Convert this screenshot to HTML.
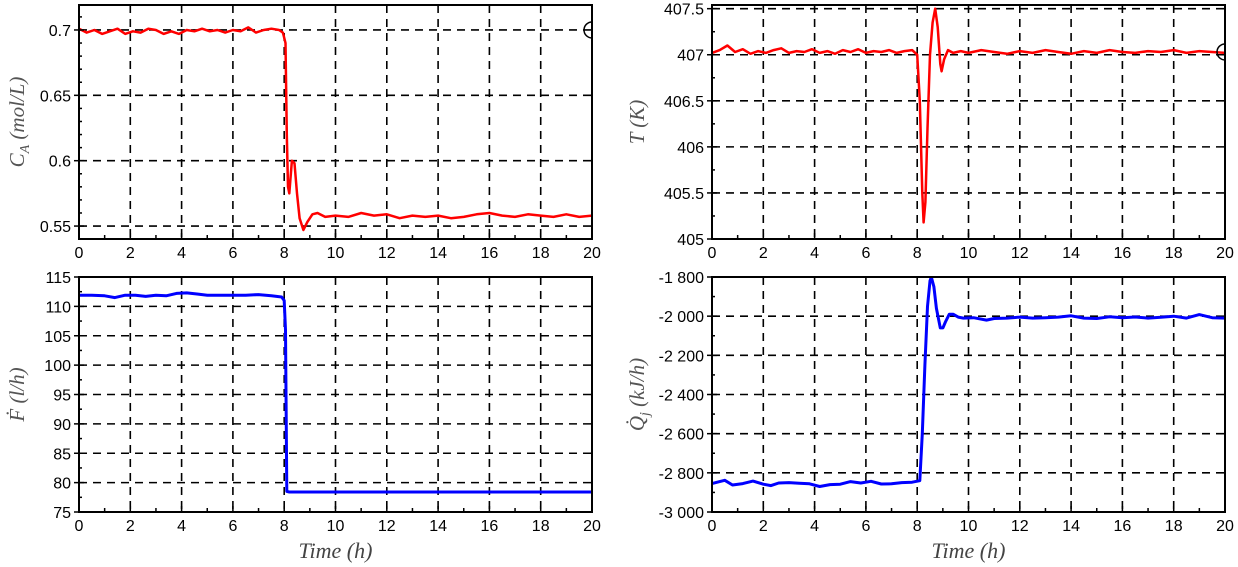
<!DOCTYPE html>
<html><head><meta charset="utf-8"><style>
html,body{margin:0;padding:0;background:#fff;}
svg{display:block;}
</style></head><body>
<svg id="fig" width="1238" height="567" xmlns="http://www.w3.org/2000/svg"></svg>
<script>
// ---- data ----
const caTime = [0,0.3,0.6,0.9,1.2,1.5,1.8,2.1,2.4,2.7,3.0,3.3,3.6,3.9,4.2,4.5,4.8,5.1,5.4,5.7,6.0,6.3,6.6,6.9,7.2,7.5,7.8,7.95,8.05,8.1,8.15,8.2,8.3,8.4,8.5,8.6,8.75,8.9,9.1,9.3,9.6,10,10.5,11,11.5,12,12.5,13,13.5,14,14.5,15,15.5,16,16.5,17,17.5,18,18.5,19,19.5,20];
const caValues = [0.701,0.698,0.700,0.697,0.699,0.701,0.697,0.699,0.698,0.701,0.700,0.697,0.699,0.697,0.700,0.699,0.701,0.699,0.700,0.698,0.700,0.699,0.702,0.698,0.700,0.701,0.700,0.698,0.690,0.620,0.580,0.575,0.600,0.598,0.575,0.556,0.547,0.553,0.559,0.560,0.557,0.558,0.557,0.560,0.558,0.559,0.556,0.558,0.557,0.558,0.556,0.557,0.559,0.560,0.558,0.557,0.559,0.558,0.557,0.559,0.557,0.558];
const tTime = [0,0.3,0.6,0.9,1.2,1.5,1.8,2.1,2.4,2.7,3.0,3.3,3.6,3.9,4.2,4.5,4.8,5.1,5.4,5.7,6.0,6.3,6.6,6.9,7.2,7.5,7.8,8.0,8.1,8.2,8.25,8.32,8.4,8.5,8.6,8.7,8.8,8.9,8.95,9.05,9.2,9.4,9.7,10,10.5,11,11.5,12,12.5,13,13.5,14,14.5,15,15.5,16,16.5,17,17.5,18,18.5,19,19.5,20];
const tValues = [407.02,407.05,407.10,407.03,407.06,407.01,407.04,407.02,407.05,407.07,407.02,407.04,407.03,407.06,407.02,407.04,407.01,407.05,407.03,407.06,407.02,407.04,407.03,407.05,407.02,407.04,407.05,407.00,406.5,405.5,405.18,405.4,406.2,407.0,407.35,407.5,407.3,406.9,406.82,406.95,407.05,407.02,407.04,407.02,407.05,407.03,407.01,407.04,407.02,407.05,407.03,407.01,407.04,407.02,407.05,407.03,407.02,407.04,407.03,407.05,407.02,407.04,407.03,407.02];
const fTime = [0,0.5,1.0,1.4,1.8,2.2,2.6,3.0,3.4,3.8,4.2,4.6,5.0,5.5,6.0,6.5,7.0,7.5,7.9,8.0,8.05,8.1,8.2,9,10,12,14,16,18,20];
const fValues = [111.9,111.9,111.8,111.5,111.9,111.9,111.7,111.9,111.8,112.2,112.3,112.1,111.9,111.9,111.9,111.9,112.0,111.8,111.6,111.0,106.0,78.5,78.4,78.4,78.4,78.4,78.4,78.4,78.4,78.4];
const qTime = [0,0.3,0.5,0.8,1.2,1.6,2.0,2.3,2.6,3.0,3.4,3.8,4.2,4.6,5.0,5.4,5.8,6.2,6.6,7.0,7.4,7.8,8.1,8.2,8.3,8.4,8.5,8.55,8.65,8.75,8.9,9.0,9.1,9.25,9.4,9.6,9.8,10.2,10.7,11.0,11.5,12,12.5,13,13.5,14,14.5,15,15.5,16,16.5,17,17.5,18,18.5,19,19.5,20];
const qValues = [-2855,-2845,-2838,-2862,-2855,-2842,-2858,-2865,-2852,-2850,-2853,-2856,-2870,-2860,-2858,-2845,-2852,-2843,-2857,-2856,-2850,-2848,-2840,-2600,-2250,-1950,-1820,-1800,-1850,-1960,-2060,-2060,-2030,-1990,-1990,-2005,-2010,-2008,-2020,-2012,-2010,-2005,-2010,-2008,-2005,-1998,-2010,-2012,-2003,-2008,-2004,-2010,-2006,-2000,-2010,-1992,-2008,-2010];
const xTicks = [0,2,4,6,8,10,12,14,16,18,20];
const caTicks = [0.55,0.6,0.65,0.7];
const caTickLabels = ["0.55","0.6","0.65","0.7"];
const tTicks = [405,405.5,406,406.5,407,407.5];
const tTickLabels = ["405","405.5","406","406.5","407","407.5"];
const fTicks = [75,80,85,90,95,100,105,110,115];
const fTickLabels = ["75","80","85","90","95","100","105","110","115"];
const qTicks = [-3000,-2800,-2600,-2400,-2200,-2000,-1800];
const qTickLabels = ["-3 000","-2 800","-2 600","-2 400","-2 200","-2 000","-1 800"];

const NS='http://www.w3.org/2000/svg';
const svg=document.getElementById('fig');
function mk(tag,attrs,parent){const e=document.createElementNS(NS,tag);for(const k in attrs)e.setAttribute(k,attrs[k]);(parent||svg).appendChild(e);return e;}
const defs=mk('defs',{});
let clipN=0;
function panel(o){
  const g=mk('g',{});
  
  
  const cid='clip'+(clipN++);
  const cp=mk('clipPath',{id:cid},defs);
  mk('rect',{x:o.x0,y:o.y0,width:o.x1-o.x0,height:o.y1-o.y0},cp);
  const sx=v=>o.x0+(v-0)/(20-0)*(o.x1-o.x0);
  const sy=v=>o.y1-(v-o.ymin)/(o.ymax-o.ymin)*(o.y1-o.y0);
  xTicks.forEach(t=>{ if(t>0&&t<20){const l=mk('line',{x1:sx(t),x2:sx(t),y1:o.y0,y2:o.y1,stroke:'#000','stroke-width':1.6,'stroke-dasharray':'8,6'},g);
    
    }});
  o.ticks.forEach(t=>{ const y=sy(t); if(y>o.y0+1&&y<o.y1-1){const l=mk('line',{x1:o.x0,x2:o.x1,y1:y,y2:y,stroke:'#000','stroke-width':1.6,'stroke-dasharray':'8,6'},g);
    
    }});
  let d='';
  o.tx.forEach((t,i)=>{d+=(i?'L':'M')+sx(t).toFixed(1)+','+sy(o.vals[i]).toFixed(1);});
  const p=mk('path',{d:d,fill:'none',stroke:o.color,'stroke-width':o.lw,'stroke-linejoin':'round','clip-path':`url(#${cid})`},g);
  
  
  if(o.marker!==undefined){
    const c=mk('circle',{cx:sx(20),cy:sy(o.marker),r:8,fill:'none',stroke:'#000','stroke-width':1.5,'clip-path':`url(#${cid})`},g);
    
    
  }
  const fr=mk('rect',{x:o.x0,y:o.y0,width:o.x1-o.x0,height:o.y1-o.y0,fill:'none',stroke:'#000','stroke-width':2},g);
  
  
  for(let t=0;t<=20;t+=1){const len=(t%2===0)?6:4;
    mk('line',{x1:sx(t),x2:sx(t),y1:o.y1,y2:o.y1-len,stroke:'#000','stroke-width':1.5},g);}
  xTicks.forEach(t=>{const tx=mk('text',{x:sx(t),y:o.y1+19,'text-anchor':'middle','font-size':16,'font-family':'Liberation Sans, sans-serif'},g);tx.textContent=t;
    
    });
  const step=o.ticks[1]-o.ticks[0];
  for(let k=0;k<o.ticks.length;k++){
    const t=o.ticks[k];
    mk('line',{x1:o.x0-5,x2:o.x0+5,y1:sy(t),y2:sy(t),stroke:'#000','stroke-width':1.5},g);
    for(let m=1;m<o.minor;m++){const v=t+step*m/o.minor;const y=sy(v);if(y>o.y0&&y<o.y1)mk('line',{x1:o.x0,x2:o.x0+3,y1:y,y2:y,stroke:'#000','stroke-width':1.5},g);}
    const tx=mk('text',{x:o.x0-8,y:sy(t)+6,'text-anchor':'end','font-size':16,'font-family':'Liberation Sans, sans-serif'},g);
    tx.textContent=o.labels[k];
    
    
  }
  const cy=(o.y0+o.y1)/2;
  const yt=mk('text',{x:o.ytx,y:cy,transform:`rotate(-90 ${o.ytx} ${cy})`,'text-anchor':'middle','font-size':21,'font-style':'italic','font-family':'Liberation Serif, serif',fill:'#555'},g);
  yt.innerHTML=o.ytitle;
  
  
  if(o.xtitle){
    const xt=mk('text',{x:(o.x0+o.x1)/2,y:558,'text-anchor':'middle','font-size':22,'font-style':'italic','font-family':'Liberation Serif, serif',fill:'#444'},g);
    xt.textContent='Time (h)';
    
    
  }
}
panel({name:'ca-panel',seriesName:'ca-series',x0:79,x1:592,y0:5,y1:239,ymin:0.5401,ymax:0.7191,ticks:caTicks,labels:caTickLabels,minor:5,tx:caTime,vals:caValues,color:'#f00',lw:2.5,marker:0.7,ytx:24,ytitle:'C<tspan font-size="14" dy="5">A</tspan><tspan dy="-5"> (mol/L)</tspan>'});
panel({name:'t-panel',seriesName:'t-series',x0:712,x1:1225,y0:5,y1:239,ymin:405,ymax:407.54,ticks:tTicks,labels:tTickLabels,minor:2,tx:tTime,vals:tValues,color:'#f00',lw:2.5,marker:407.03,ytx:644,ytitle:'T (K)'});
panel({name:'f-panel',seriesName:'f-series',x0:79,x1:592,y0:277,y1:512,ymin:75,ymax:115,ticks:fTicks,labels:fTickLabels,minor:2,tx:fTime,vals:fValues,color:'#00f',lw:3,ytx:24,xtitle:true,ytitle:'Ḟ (l/h)'});
panel({name:'q-panel',seriesName:'q-series',x0:712,x1:1225,y0:277,y1:512,ymin:-3000,ymax:-1800,ticks:qTicks,labels:qTickLabels,minor:2,tx:qTime,vals:qValues,color:'#00f',lw:3,ytx:644,xtitle:true,ytitle:'Q̇<tspan font-size="14" dy="5">j</tspan><tspan dy="-5"> (kJ/h)</tspan>'});
</script>
</body></html>
